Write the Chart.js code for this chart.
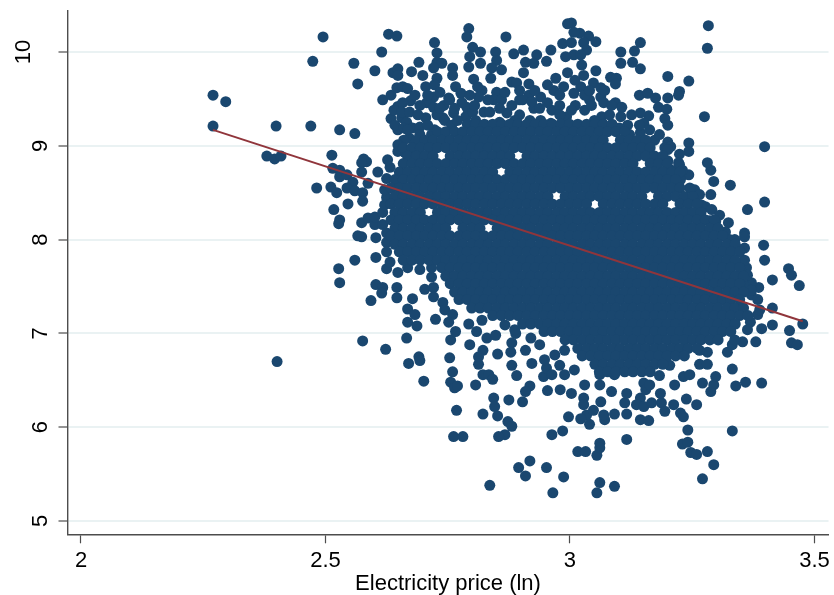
<!DOCTYPE html>
<html>
<head>
<meta charset="utf-8">
<title>Electricity price (ln)</title>
<script src="https://cdn.jsdelivr.net/npm/chart.js@4"></script>
<style>
  html, body { margin: 0; padding: 0; background: #fff; }
  canvas { display: block; }
</style>
</head>
<body>
<canvas id="chart" width="834" height="595"></canvas>
<script>
const xTicks = [2, 2.5, 3, 3.5]
const yTicks = [5, 6, 7, 8, 9, 10]
const xTitle = "Electricity price (ln)"

// fitted line
const fitPrice = [2.27, 3.476]
const fitOutcome = [9.17, 7.13]

// points that can be told apart around the cloud [price, outcome]
const loosePoints = [
[2.27,9.54],[2.296,9.47],[2.27,9.21],[2.399,9.21],[2.47,9.21],[2.38,8.89],[2.396,8.86],[2.409,8.89],[2.495,10.16],[2.474,9.9],
[2.558,9.88],[2.566,9.66],[2.615,10],[2.629,10.19],[2.646,10.17],[2.601,9.8],[2.638,9.78],[2.648,9.82],[2.648,9.75],[2.676,9.79],
[2.691,9.89],[2.699,9.75],[2.529,9.17],[2.56,9.13],[2.617,9.49],[2.634,9.54],[2.646,9.62],[2.658,9.63],[2.668,9.61],[2.674,9.48],
[2.648,9.42],[2.658,9.46],[2.634,9.29],[2.656,9.3],[2.666,9.25],[2.648,9.17],[2.678,9.19],[2.513,8.9],[2.578,8.86],[2.584,8.83],
[2.574,8.82],[2.574,8.72],[2.607,8.72],[2.515,8.76],[2.529,8.74],[2.529,8.67],[2.544,8.69],[2.556,8.61],[2.587,8.6],[2.482,8.55],
[2.511,8.56],[2.523,8.5],[2.544,8.55],[2.56,8.52],[2.576,8.5],[2.576,8.41],[2.546,8.38],[2.517,8.32],[2.529,8.21],[2.527,8.17],
[2.574,8.18],[2.587,8.23],[2.601,8.16],[2.601,8.24],[2.617,8.29],[2.625,8.45],[2.621,8.53],[2.566,8.04],[2.574,8.03],[2.603,8.02],
[2.625,8.07],[2.625,7.97],[2.625,7.87],[2.603,7.81],[2.56,7.78],[2.527,7.69],[2.529,7.54],[2.625,7.69],[2.648,7.65],[2.603,7.52],
[2.617,7.49],[2.615,7.43],[2.646,7.49],[2.646,7.38],[2.678,7.37],[2.593,7.35],[2.668,7.26],[2.683,7.2],[2.668,7.12],[2.687,7.08],
[2.666,6.95],[2.576,6.92],[2.623,6.83],[2.67,6.68],[2.691,6.75],[2.693,6.71],[2.401,6.7],[2.717,7.6],[2.703,7.47],[2.721,7.49],
[2.721,7.39],[2.74,7.33],[2.744,7.25],[2.76,7.2],[2.752,7.12],[2.725,7.15],[2.793,7.1],[2.82,7.14],[2.809,7.02],[2.83,6.95],
[2.848,6.98],[2.889,7],[2.92,6.95],[2.881,6.9],[2.756,6.93],[2.766,7.02],[2.754,6.74],[2.76,6.59],[2.756,6.48],[2.764,6.42],
[2.77,6.44],[2.701,6.49],[2.768,6.18],[2.822,6.14],[2.807,6.45],[2.822,6.56],[2.834,6.56],[2.842,6.51],[2.822,6.82],[2.813,6.75],
[2.813,6.67],[2.852,6.78],[2.879,6.8],[2.881,6.66],[2.891,6.55],[2.909,6.82],[2.922,6.68],[2.946,6.54],[2.952,6.63],[2.948,6.72],
[2.918,6.44],[2.909,6.38],[2.903,6.27],[2.875,6.29],[2.844,6.31],[2.846,6.22],[2.852,6.12],[2.873,6.06],[2.881,6.01],[2.867,5.92],
[2.854,5.9],[2.762,5.9],[2.781,5.9],[2.963,5.92],[2.985,5.96],[2.997,6.11],[2.954,6.39],[2.918,5.64],[2.895,5.57],[2.909,5.48],
[2.952,5.57],[2.987,5.47],[2.836,5.38],[2.965,5.3],[3.016,5.74],[3.032,5.74],[3.055,5.7],[3.061,5.83],[3.061,5.78],[3.055,5.3],
[3.061,5.41],[3.091,5.37],[2.98,6.4],[3.003,6.36],[3.028,6.31],[3.028,6.24],[3.034,6.13],[3.048,6.18],[3.04,6.03],[3.022,6.09],
[3.071,6.08],[3.069,6.13],[3.091,6.14],[3.116,6.14],[3.112,6.26],[3.116,6.36],[3.085,6.38],[3.063,6.27],[3.144,6.31],[3.136,6.24],
[3.151,6.22],[3.167,6.26],[3.187,6.26],[3.194,6.17],[3.185,6.36],[3.183,6.55],[3.151,6.47],[3.155,6.4],[3.214,6.45],[3.232,6.54],
[3.212,6.24],[3.226,6.15],[3.232,6.11],[3.238,6.3],[3.259,6.24],[3.144,6.08],[3.161,6.07],[3.116,5.87],[3.241,5.97],[3.23,5.82],
[3.241,5.84],[3.247,5.73],[3.259,5.71],[3.281,5.74],[3.294,5.6],[3.271,5.45],[3.332,5.96],[3.271,6.47],[3.288,6.38],[3.294,6.45],
[3.298,6.54],[3.339,6.44],[3.359,6.48],[3.392,6.47],[3.332,6.62],[3.265,6.67],[3.281,6.67],[3.38,6.91],[3.453,6.9],[3.465,6.88],
[3.353,6.91],[3.322,6.8],[3.281,6.8],[3.476,7.1],[3.414,7.27],[3.414,7.09],[3.449,7.03],[3.392,7.05],[3.369,7.12],[3.332,6.88],
[3.283,10.28],[3.281,10.04],[3.275,9.31],[3.398,8.99],[3.398,8.4],[3.328,8.58],[3.363,8.32],[3.288,8.48],[3.294,8.62],[3.288,8.74],
[3.281,8.82],[3.243,9.69],[3.224,9.58],[3.222,9.54],[3.2,9.74],[3.2,9.51],[3.144,9.82],[3.144,10.1],[3.132,10.01],[3.128,9.89],
[3.104,9.88],[3.104,10],[3.053,9.8],[3.083,9.73],[3.095,9.72],[3.093,9.66],[3.142,9.54],[3.159,9.56],[3.175,9.51],[3.181,9.41],
[3.198,9.39],[3.194,9.29],[3.2,9.22],[3.161,9.32],[3.144,9.35],[3.126,9.33],[3.151,9.24],[3.144,9.14],[3.243,9.03],[3.243,8.94],
[3.2,9.04],[3.194,8.98],[3.206,8.99],[3.224,8.91],[3.222,8.82],[3.2,8.84],[3.165,8.85],[3.243,8.69],[3.226,8.64],[3.177,8.72],
[3.198,8.67],[3.277,8.35],[3.29,8.32],[3.286,8.2],[3.324,8.18],[3.318,8.08],[3.357,8.07],[3.357,8.03],[3.396,7.94],[3.357,7.91],
[3.398,7.78],[3.361,7.7],[3.341,7.75],[3.314,7.64],[3.414,7.57],[3.447,7.69],[3.453,7.62],[3.469,7.51],[3.386,7.49],[3.371,7.54],
[3.355,7.52],[3.339,7.54],[3.29,7.75],[3.003,10.31],[2.995,10.3],[3.038,10.17],[3.02,10.2],[3.008,10.21],[3.053,10.11],[2.985,10.09],
[3.003,10.1],[3.028,10.1],[3.034,10.02],[3.008,9.97],[2.991,9.95],[3.022,9.97],[3.024,9.86],[2.995,9.78],[3.028,9.75],[3.048,9.67],
[3.063,9.62],[3.022,9.63],[2.987,9.63],[2.971,9.72],[2.961,10.02],[2.952,9.9],[2.932,9.97],[2.926,9.88],[2.905,10.02],[2.885,9.98],
[2.869,10.16],[2.793,10.25],[2.789,10.16],[2.801,10.05],[2.817,10],[2.848,10],[2.85,9.91],[2.795,9.95],[2.793,9.84],[2.817,9.88],
[2.84,9.83],[2.86,9.81],[2.838,9.72],[2.803,9.71],[2.909,9.89],[2.905,9.78],[2.916,9.66],[2.881,9.68],[2.891,9.67],[2.723,10.1],
[2.728,9.99],[2.728,9.89],[2.738,9.88],[2.721,9.83],[2.76,9.83],[2.76,9.75],[2.728,9.72],[2.705,9.63],[2.766,9.63],[2.721,9.52],
[2.752,9.51],[2.707,9.46],[2.721,9.41],[2.777,9.56],[2.789,9.41],[2.762,9.35],[2.787,9.31],[2.82,9.59],[2.813,9.52],[2.85,9.57],
[2.844,9.49],[2.86,9.49],[2.916,9.54],[2.94,9.52],[2.967,9.59],[2.963,9.38],[2.926,9.4],[2.961,9.24],[2.993,9.31],[3.008,9.56],
[3.063,9.52],[3.069,9.46],[3.065,9.31],[3.093,9.46],[3.106,9.41],[3.104,9.31],[3.089,9.2],[2.824,9.36],[2.871,9.35],[2.705,9.3],
[2.693,9.2],[2.723,9.17],[2.672,9.08],[2.648,8.94],[2.662,8.93],[2.632,8.77],[2.625,8.65],[2.897,9.49],[3.011,9.43],[3.04,9.49],
[3.03,9.38],[2.979,9.43],[2.74,9.3],
[2.64,9.38],[2.656,9.36],[2.642,9.22],[2.66,9.19],[2.672,9.36],[2.668,9.17],[2.66,9.06],[2.648,9.01],[2.723,9.65],[2.734,9.57],
[2.728,9.33],[2.742,9.43],[2.709,9.54],[2.744,9.27],[2.758,9.22],[2.77,9.27],[2.801,9.36],[2.807,9.27],[2.832,9.49],[2.795,9.54],
[2.811,9.63],[2.836,9.36],[2.856,9.4],[2.881,9.43],[2.903,9.49],[2.922,9.47],[2.938,9.4],[2.954,9.46],[2.897,9.33],[2.918,9.27],
[2.94,9.27],[2.979,9.33],[3.003,9.38],[3.03,9.54],[3.044,9.43],[3.081,9.33],[3.085,9.43],[3.05,9.27],[3.118,9.22],[3.142,9.22],
[3.163,9.17],[3.122,9.12],[3.173,9.06],[3.183,9.12],[3.2,8.96],[3.224,8.8],[3.208,8.74],[3.255,8.53],[3.265,8.48],[3.306,8.26],
[3.337,8],[3.357,7.78],[3.371,7.41],[3.384,7.2],[2.795,6.88],[2.867,7.09],[2.887,7.04],[2.938,6.88],[2.969,6.77],[2.979,6.66],
[2.989,6.82],[2.989,6.56],[2.963,6.56],[3.009,6.61],[3.03,6.45],[3.061,6.56],[3.061,6.45],[3.091,6.56],[3.122,6.61],[3.163,6.61],
[3.204,6.66],[3.245,6.56],[3.265,6.82],[3.163,6.45],
[2.754,9.49],[2.779,9.46],[2.805,9.43],[2.867,9.57],[2.897,9.59],[2.928,9.59],[2.954,9.65],[2.979,9.54],[3.01,9.7],[3.04,9.59],
[3.071,9.59],[2.683,9.54],[2.693,9.43],[2.689,9.33],[2.709,9.22],[2.693,9.12],[2.717,9.12],[2.734,9.4],[2.764,9.4],[2.887,9.27],
[2.856,9.25],[3.101,9.19],[3.23,8.74],[3.245,8.55],[3.269,8.37],[3.298,8.19],[3.326,8],[3.347,7.89],[3.363,7.62],[3.371,7.46],
[3.384,7.36],[3.388,7.25],[3.363,7.04],[3.337,6.93],[2.621,8.37],[2.617,8.16],[2.632,7.76],[2.668,7.7],[2.693,7.68],[2.717,7.7],
[2.627,8.85]
]

// solid part of the cloud, read row by row: outcome level and the prices covered on it
const denseLevels = [9.23,9.15,9.06,8.98,8.89,8.81,8.72,8.64,8.55,8.46,8.38,8.29,8.21,8.12,8.04,7.95,7.87,7.78,7.7,7.61,7.53,7.44,7.36,7.27,7.19,7.1,7.02,6.93,6.84,6.76,6.67,6.59]
const densePrices = [
[2.79,2.807,2.825,2.842,2.86,2.877,2.894,2.912,2.929,2.947,2.964,2.981,2.999,3.016,3.034,3.051,3.068,3.086],
[2.729,2.746,2.764,2.781,2.799,2.816,2.833,2.851,2.868,2.886,2.903,2.92,2.938,2.955,2.973,2.99,3.007,3.025,3.042,3.06,3.077,3.094,3.112],
[2.686,2.703,2.72,2.738,2.755,2.773,2.79,2.807,2.825,2.842,2.86,2.877,2.894,2.912,2.929,2.947,2.964,2.981,2.999,3.016,3.034,3.051,3.068,3.103,3.121,3.138,3.155],
[2.659,2.677,2.694,2.712,2.729,2.746,2.764,2.781,2.799,2.816,2.833,2.851,2.868,2.886,2.903,2.92,2.938,2.955,2.973,2.99,3.007,3.025,3.042,3.06,3.077,3.094,3.112,3.129,3.147,3.164],
[2.668,2.686,2.703,2.72,2.755,2.773,2.79,2.807,2.825,2.842,2.86,2.877,2.912,2.929,2.947,2.964,2.981,2.999,3.016,3.034,3.051,3.068,3.086,3.103,3.121,3.138,3.155,3.173,3.19],
[2.659,2.677,2.694,2.712,2.729,2.746,2.764,2.781,2.799,2.816,2.833,2.851,2.868,2.886,2.903,2.92,2.938,2.955,2.973,2.99,3.007,3.025,3.042,3.06,3.077,3.094,3.112,3.129,3.164,3.181,3.199],
[2.651,2.668,2.686,2.703,2.72,2.738,2.755,2.773,2.79,2.807,2.825,2.842,2.877,2.894,2.912,2.929,2.947,2.964,2.981,2.999,3.016,3.034,3.051,3.068,3.086,3.103,3.121,3.138,3.155,3.173,3.19,3.208,3.225],
[2.642,2.659,2.677,2.694,2.712,2.729,2.746,2.764,2.781,2.799,2.816,2.833,2.851,2.868,2.886,2.903,2.92,2.938,2.955,2.973,2.99,3.007,3.025,3.042,3.06,3.077,3.094,3.112,3.129,3.147,3.164,3.181,3.199,3.216],
[2.634,2.651,2.668,2.686,2.703,2.72,2.738,2.755,2.773,2.79,2.807,2.825,2.842,2.86,2.877,2.894,2.912,2.929,2.947,2.964,2.981,2.999,3.016,3.034,3.051,3.068,3.086,3.103,3.121,3.138,3.155,3.173,3.19,3.208,3.225],
[2.642,2.659,2.677,2.694,2.712,2.729,2.746,2.764,2.781,2.799,2.816,2.833,2.851,2.868,2.886,2.903,2.92,2.938,2.955,2.99,3.007,3.025,3.042,3.06,3.077,3.094,3.112,3.129,3.147,3.181,3.199,3.216,3.234,3.251],
[2.634,2.651,2.668,2.686,2.703,2.72,2.738,2.755,2.773,2.79,2.807,2.825,2.842,2.86,2.877,2.894,2.912,2.929,2.947,2.964,2.981,2.999,3.016,3.034,3.068,3.086,3.103,3.121,3.138,3.155,3.173,3.19,3.225,3.242,3.26],
[2.642,2.659,2.677,2.694,2.729,2.746,2.764,2.781,2.799,2.816,2.833,2.851,2.868,2.886,2.903,2.92,2.938,2.955,2.973,2.99,3.007,3.025,3.042,3.06,3.077,3.094,3.112,3.129,3.147,3.164,3.181,3.199,3.216,3.234,3.251,3.268],
[2.634,2.651,2.668,2.686,2.703,2.72,2.738,2.755,2.773,2.79,2.807,2.825,2.842,2.86,2.877,2.894,2.912,2.929,2.947,2.964,2.981,2.999,3.016,3.034,3.051,3.068,3.086,3.103,3.121,3.138,3.155,3.173,3.19,3.208,3.225,3.242,3.26,3.277,3.295],
[2.642,2.659,2.677,2.694,2.712,2.729,2.746,2.781,2.799,2.816,2.851,2.868,2.886,2.903,2.92,2.938,2.955,2.973,2.99,3.007,3.025,3.042,3.06,3.077,3.094,3.112,3.129,3.147,3.164,3.181,3.199,3.216,3.234,3.251,3.268,3.286,3.303],
[2.634,2.651,2.668,2.686,2.703,2.72,2.738,2.755,2.773,2.79,2.807,2.825,2.842,2.86,2.877,2.894,2.912,2.929,2.947,2.964,2.981,2.999,3.016,3.034,3.051,3.068,3.086,3.103,3.121,3.138,3.155,3.173,3.19,3.208,3.225,3.242,3.26,3.277,3.295,3.312],
[2.642,2.659,2.677,2.694,2.712,2.729,2.746,2.764,2.781,2.799,2.816,2.833,2.851,2.868,2.886,2.903,2.92,2.938,2.955,2.973,2.99,3.007,3.025,3.042,3.06,3.077,3.094,3.112,3.129,3.147,3.164,3.181,3.199,3.216,3.234,3.251,3.268,3.286,3.303,3.321,3.338],
[2.651,2.668,2.686,2.703,2.72,2.738,2.755,2.773,2.79,2.807,2.825,2.842,2.86,2.877,2.894,2.912,2.929,2.947,2.964,2.981,2.999,3.016,3.034,3.051,3.068,3.086,3.103,3.121,3.138,3.155,3.173,3.19,3.208,3.225,3.242,3.26,3.277,3.295,3.312,3.329,3.347],
[2.659,2.677,2.694,2.712,2.729,2.746,2.764,2.781,2.799,2.816,2.833,2.851,2.868,2.886,2.903,2.92,2.938,2.955,2.973,2.99,3.007,3.025,3.042,3.06,3.077,3.094,3.112,3.129,3.147,3.164,3.181,3.199,3.216,3.234,3.251,3.268,3.286,3.303,3.321,3.338],
[2.738,2.755,2.773,2.79,2.807,2.825,2.842,2.86,2.877,2.894,2.912,2.929,2.947,2.964,2.981,2.999,3.016,3.034,3.051,3.068,3.086,3.103,3.121,3.138,3.155,3.173,3.19,3.208,3.225,3.242,3.26,3.277,3.295,3.312,3.329,3.347],
[2.746,2.764,2.781,2.799,2.816,2.833,2.851,2.868,2.886,2.903,2.92,2.938,2.955,2.973,2.99,3.007,3.025,3.042,3.06,3.077,3.094,3.112,3.129,3.147,3.164,3.181,3.199,3.216,3.234,3.251,3.268,3.286,3.303,3.321,3.338,3.355],
[2.755,2.773,2.79,2.807,2.825,2.842,2.86,2.877,2.894,2.912,2.929,2.947,2.964,2.981,2.999,3.016,3.034,3.051,3.068,3.086,3.103,3.121,3.138,3.155,3.173,3.19,3.208,3.225,3.242,3.26,3.277,3.295,3.312,3.329,3.347],
[2.764,2.781,2.799,2.816,2.833,2.851,2.868,2.886,2.903,2.92,2.938,2.955,2.973,2.99,3.007,3.025,3.042,3.06,3.077,3.094,3.112,3.129,3.147,3.164,3.181,3.199,3.216,3.234,3.251,3.268,3.286,3.303,3.321,3.338,3.355],
[2.773,2.79,2.807,2.825,2.842,2.86,2.877,2.894,2.912,2.929,2.947,2.964,2.981,2.999,3.016,3.034,3.051,3.068,3.086,3.103,3.121,3.138,3.155,3.173,3.19,3.208,3.225,3.242,3.26,3.277,3.295,3.312,3.329,3.347],
[2.799,2.816,2.833,2.851,2.868,2.886,2.903,2.92,2.938,2.955,2.973,2.99,3.007,3.025,3.042,3.06,3.077,3.094,3.112,3.129,3.147,3.164,3.181,3.199,3.216,3.234,3.251,3.268,3.286,3.303,3.321,3.338,3.355],
[2.842,2.86,2.877,2.894,2.912,2.929,2.947,2.964,2.981,2.999,3.016,3.034,3.051,3.068,3.086,3.103,3.121,3.138,3.155,3.173,3.19,3.208,3.225,3.242,3.26,3.277,3.295,3.312,3.329,3.347,3.364],
[2.903,2.92,2.938,2.955,2.973,2.99,3.007,3.025,3.042,3.06,3.077,3.094,3.112,3.129,3.147,3.164,3.181,3.199,3.216,3.234,3.251,3.268,3.286,3.303,3.321,3.338],
[2.947,2.964,2.981,2.999,3.016,3.034,3.051,3.068,3.086,3.103,3.121,3.138,3.155,3.173,3.19,3.208,3.225,3.242,3.26,3.277,3.295,3.312,3.329],
[2.99,3.007,3.025,3.042,3.06,3.077,3.094,3.112,3.129,3.147,3.164,3.181,3.199,3.216,3.234,3.251,3.268,3.286,3.303],
[3.016,3.034,3.051,3.068,3.086,3.103,3.121,3.138,3.155,3.173,3.19,3.208,3.225,3.242,3.26],
[3.025,3.042,3.06,3.077,3.094,3.112,3.129,3.147,3.164,3.181,3.199,3.216,3.234],
[3.051,3.068,3.086,3.103,3.121,3.138,3.155,3.173,3.19],
[3.06,3.077,3.094,3.112,3.129,3.147,3.164]
]

const navy = "#1a476f"
const maroon = "#90353b"
const gridBlue = "#eaf2f3"
const axisGray = "#4d4d4d"
const labelFont = { family: "'Liberation Sans', Arial, sans-serif", size: 22 }

const cloud = loosePoints.map(p => ({ x: p[0], y: p[1] }))
denseLevels.forEach((level, i) => {
  densePrices[i].forEach(price => cloud.push({ x: price, y: level }))
})

const ctx = document.getElementById("chart")

new Chart(ctx, {
  type: "scatter",
  data: {
    datasets: [
      {
        data: fitPrice.map((p, i) => ({ x: p, y: fitOutcome[i] })),
        showLine: true,
        borderColor: maroon,
        borderWidth: 2,
        pointRadius: 0,
        order: 0
      },
      {
        data: cloud,
        backgroundColor: navy,
        borderWidth: 0,
        pointRadius: 5.5,
        order: 1
      }
    ]
  },
  options: {
    responsive: false,
    animation: false,
    layout: { padding: { top: 11, right: 5 } },
    plugins: { legend: { display: false }, tooltip: { enabled: false } },
    scales: {
      x: {
        type: "linear",
        min: 1.9724,
        max: 3.5287,
        afterFit: s => { s.height = 60.7; s.paddingLeft = 0; s.paddingRight = 0 },
        afterBuildTicks: s => { s.ticks = xTicks.map(v => ({ value: v })) },
        border: { color: axisGray, width: 1.4 },
        grid: { drawOnChartArea: false, tickColor: axisGray, tickLength: 9, tickWidth: 1.2 },
        ticks: { color: "#000", font: labelFont, padding: 4, maxRotation: 0, autoSkip: false, callback: v => String(v) },
        title: { display: true, text: xTitle, color: "#000", font: { ...labelFont, lineHeight: 1.05 }, padding: { top: 0, bottom: 0 } }
      },
      y: {
        min: 4.858,
        max: 10.437,
        afterFit: s => { s.width = 67.5; s.paddingTop = 0; s.paddingBottom = 0 },
        afterBuildTicks: s => { s.ticks = yTicks.map(v => ({ value: v })) },
        border: { color: axisGray, width: 1.4 },
        grid: { color: gridBlue, lineWidth: 2, tickColor: axisGray, tickLength: 9, tickWidth: 1.2 },
        ticks: {
          color: "#000",
          font: { ...labelFont, lineHeight: 1.55 },
          padding: 5.3,
          minRotation: 90,
          maxRotation: 90,
          crossAlign: "center",
          autoSkip: false,
          callback: v => v >= 10 ? [String(v), ""] : String(v)
        }
      }
    }
  }
})
</script>
</body>
</html>
